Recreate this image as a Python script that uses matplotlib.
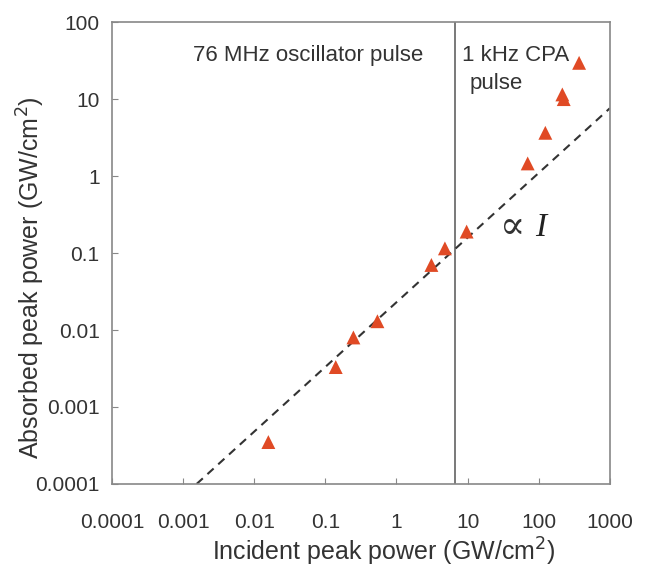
import matplotlib
matplotlib.use('Agg')
import matplotlib.pyplot as plt
from matplotlib.ticker import FixedLocator, NullLocator

plt.rcParams['font.family'] = ['Liberation Sans', 'DejaVu Sans']

# measured points (incident vs absorbed peak power, GW/cm^2)
incident = [0.0158, 0.14, 0.248, 0.54, 3.1, 4.8, 9.7, 70, 124, 215, 225, 370]
absorbed = [0.00035, 0.0033, 0.008, 0.013, 0.07, 0.115, 0.19, 1.46, 3.65, 11.5, 10.0, 29.6]

# dashed guide line (proportional to I)
fit_x = [0.00155, 1000]
fit_y = [0.0001, 7.6]

# boundary between oscillator and CPA regime
boundary_x = 6.6

x_ticks = [0.0001, 0.001, 0.01, 0.1, 1, 10, 100, 1000]
x_labels = ['0.0001', '0.001', '0.01', '0.1', '1', '10', '100', '1000']
y_ticks = [0.0001, 0.001, 0.01, 0.1, 1, 10, 100]
y_labels = ['0.0001', '0.001', '0.01', '0.1', '1', '10', '100']

fig = plt.figure(figsize=(6.55, 5.68), dpi=100)
ax = fig.add_axes([0.171, 0.148, 0.760, 0.813])

ax.plot(fit_x, fit_y, linestyle=(0, (4, 3)), color='#333333', linewidth=1.5, zorder=2)
ax.axvline(boundary_x, color='#555555', linewidth=1.1, zorder=1)
ax.scatter(incident, absorbed, marker='^', s=100, color='#E04A25', edgecolors='none', zorder=3)

ax.set_xscale('log')
ax.set_yscale('log')
ax.set_xlim(0.0001, 1000)
ax.set_ylim(0.0001, 100)

ax.xaxis.set_major_locator(FixedLocator(x_ticks))
ax.yaxis.set_major_locator(FixedLocator(y_ticks))
ax.xaxis.set_minor_locator(NullLocator())
ax.yaxis.set_minor_locator(NullLocator())
ax.set_xticklabels(x_labels)
ax.set_yticklabels(y_labels)
ax.tick_params(axis='both', direction='in', length=4, color='#888888',
               labelsize=15, labelcolor='#333333')
ax.tick_params(axis='x', pad=21)
ax.tick_params(axis='y', pad=9)

for sp in ax.spines.values():
    sp.set_color('#888888')
    sp.set_linewidth(1.2)

ax.set_xlabel('Incident peak power (GW/cm$^2$)', fontsize=18, color='#333333')
ax.set_ylabel('Absorbed peak power (GW/cm$^2$)', fontsize=18, color='#333333')
ax.xaxis.set_label_coords(0.546, -0.113)
ax.yaxis.set_label_coords(-0.13, 0.446)

ax.text(0.00138, 37, '76 MHz oscillator pulse', fontsize=16, color='#333333', va='center')
ax.text(8.3, 37, '1 kHz CPA', fontsize=16, color='#333333', va='center')
ax.text(10.8, 16.1, 'pulse', fontsize=16, color='#333333', va='center')
ax.text(29, 0.21, '\u221d', fontsize=27, color='#333333', va='center',
        family=['DejaVu Serif'])
ax.text(88, 0.21, 'I', fontsize=24, color='#222222', va='center',
        family=['Liberation Serif', 'DejaVu Serif'], style='italic')

fig.savefig('out.png', dpi=100)
